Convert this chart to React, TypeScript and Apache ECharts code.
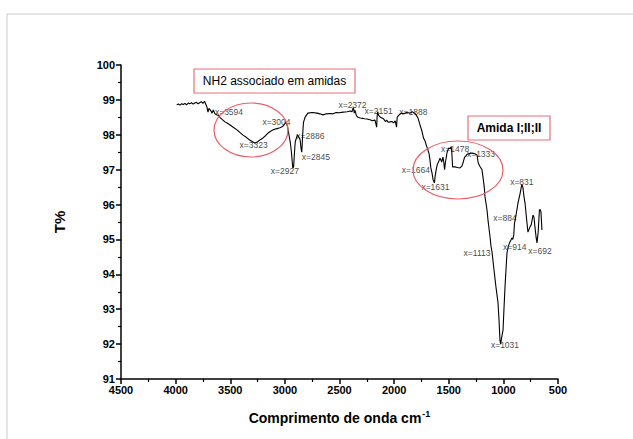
import React, { useEffect, useRef } from "react";
import * as echarts from "echarts";

const wavenumbers = [
  3990, 3975, 3960, 3945, 3930, 3915, 3900, 3885, 3870, 3855, 3840, 3825, 3810, 3795, 3780, 3765, 3750, 3735, 3725, 3712,
  3704, 3695, 3680, 3667, 3655, 3640, 3621, 3605, 3594, 3575, 3548, 3525, 3502, 3470, 3438, 3410, 3383, 3350, 3323, 3295,
  3274, 3250, 3225, 3200, 3175, 3154, 3130, 3109, 3080, 3045, 3020, 3004, 2990, 2975, 2960, 2950, 2940, 2932, 2927, 2920,
  2912, 2905, 2895, 2886, 2875, 2860, 2852, 2845, 2838, 2830, 2816, 2790, 2750, 2706, 2680, 2651, 2620, 2590, 2560, 2530,
  2500, 2468, 2430, 2400, 2386, 2378, 2372, 2365, 2358, 2345, 2331, 2310, 2290, 2270, 2248, 2220, 2200, 2175, 2160, 2155,
  2151, 2140, 2125, 2111, 2095, 2080, 2068, 2055, 2038, 2020, 2005, 1990, 1978, 1972, 1960, 1945, 1928, 1910, 1888, 1870,
  1855, 1835, 1810, 1795, 1781, 1760, 1745, 1730, 1717, 1700, 1690, 1680, 1672, 1664, 1653, 1644, 1631, 1625, 1615, 1605,
  1598, 1590, 1580, 1572, 1565, 1553, 1545, 1538, 1530, 1515, 1500, 1486, 1478, 1472, 1465, 1443, 1420, 1397, 1380, 1370,
  1355, 1340, 1333, 1310, 1287, 1265, 1241, 1230, 1215, 1196, 1185, 1175, 1168, 1150, 1141, 1122, 1113, 1104, 1086, 1068,
  1049, 1040, 1031, 1025, 1018, 1003, 995, 985, 976, 967, 955, 940, 921, 914, 905, 898, 884, 866, 848, 839,
  831, 822, 810, 802, 784, 775, 756, 745, 729, 720, 710, 700, 692, 682, 670, 662, 656, 647,
];

const transmittance = [
  98.86, 98.88, 98.85, 98.89, 98.87, 98.9, 98.86, 98.91, 98.89, 98.92, 98.88, 98.91, 98.93, 98.89, 98.92, 98.95, 98.9, 98.96, 98.88, 98.78,
  98.65, 98.76, 98.7, 98.62, 98.71, 98.6, 98.57, 98.55, 98.5, 98.44, 98.37, 98.33, 98.28, 98.21, 98.14, 98.06, 97.99, 97.92, 97.85, 97.8,
  97.76, 97.8, 97.86, 97.91, 97.98, 98.05, 98.1, 98.14, 98.17, 98.2, 98.24, 98.3, 98.37, 98.22, 97.95, 97.77, 97.5, 97.2, 97.05, 97.08,
  97.5, 97.8, 97.9, 98.0, 97.95, 97.85, 97.6, 97.5, 97.95, 98.35, 98.5, 98.62, 98.64, 98.62, 98.6, 98.57, 98.6, 98.61, 98.6, 98.64,
  98.63, 98.65, 98.66, 98.68, 98.66, 98.74, 98.78, 98.62, 98.7, 98.55, 98.5, 98.48, 98.47, 98.46, 98.45, 98.43, 98.4, 98.42, 98.22, 98.55,
  98.66, 98.55, 98.5, 98.48, 98.45, 98.38, 98.42, 98.36, 98.37, 98.38, 98.34, 98.4, 98.22, 98.5, 98.55, 98.6, 98.62, 98.6, 98.64, 98.63,
  98.62, 98.66, 98.62, 98.55, 98.48, 98.25, 98.1, 97.9, 97.82, 97.65, 97.56, 97.45, 97.28, 97.05, 96.9, 96.72, 96.62, 96.8, 97.0, 97.15,
  97.19, 97.25, 97.33, 97.28, 97.22, 97.36, 97.2, 97.0, 97.22, 97.5, 97.62, 97.6, 97.66, 97.5, 97.08, 97.08, 97.06, 97.05, 97.1, 97.19,
  97.36, 97.4, 97.44, 97.46, 97.48, 97.46, 97.42, 97.19, 97.1, 97.0, 96.75, 96.5, 96.22, 95.85, 95.56, 95.07, 94.8, 94.64, 94.13, 93.64,
  93.18, 92.7, 92.1, 92.0, 92.15, 92.41, 92.98, 93.64, 94.13, 94.61, 94.8, 94.93, 95.04, 95.0, 95.13, 95.47, 95.7, 96.05, 96.3, 96.45,
  96.58, 96.5, 96.2, 96.05, 95.47, 95.21, 95.36, 95.42, 95.7, 95.64, 95.33, 95.05, 94.9, 95.19, 95.85, 95.85, 95.79, 95.27,
];

const peakLabels = [3594, 3323, 3004, 2927, 2886, 2845, 2372, 2151, 1888, 1664, 1631, 1478, 1333, 1113, 1031, 914, 884, 831, 692];

const xTickMin = 500;
const xTickMax = 4500;
const yTickMin = 91;
const yTickMax = 100;

const annotationTexts = ["NH2 associado em amidas", "Amida I;II;II"];
const xAxisTitle = "Comprimento de onda cm";
const xAxisTitleSup = "-1";
const yAxisTitle = "T%";

// label placement (style only): offset of the label text from its point, in pixels
const LABEL_OFFSETS: Record<number, [number, number]> = {
  3594: [9, -5],
  3323: [4, 5],
  3004: [-8, -2],
  2927: [-8, 3],
  2886: [13, 1],
  2845: [14, 5],
  2372: [-1, -3],
  2151: [1, -1],
  1888: [7, 0],
  1664: [-15, 2],
  1631: [1, 4],
  1478: [4, 2],
  1333: [14, 0],
  1113: [-14, 7],
  1031: [5, 4],
  914: [2, 8],
  884: [-11, 3],
  831: [0, -2],
  692: [3, 8],
};

function nearestY(x: number): number {
  let best = 0;
  let bd = Infinity;
  for (let i = 0; i < wavenumbers.length; i++) {
    const d = Math.abs(wavenumbers[i] - x);
    if (d < bd) {
      bd = d;
      best = i;
    }
  }
  return transmittance[best];
}

export default function App() {
  const ref = useRef<HTMLDivElement>(null);

  useEffect(() => {
    if (!ref.current) return;
    const chart = echarts.init(ref.current, null, { renderer: "svg" });
    const lineData = wavenumbers.map((w, i) => [w, transmittance[i]]);
    const labelData = peakLabels.map((w) => ({
      value: [w, nearestY(w)],
      label: { offset: LABEL_OFFSETS[w] || [0, 0] },
    }));
    const axisFont = "'Liberation Sans', Arial, sans-serif";

    chart.setOption({
      animation: false,
      backgroundColor: "#ffffff",
      grid: { left: 121, right: 75, top: 65, bottom: 60, containLabel: false },
      xAxis: {
        type: "value",
        min: xTickMin,
        max: xTickMax,
        interval: 500,
        inverse: true,
        name: `${xAxisTitle}{sup|${xAxisTitleSup}}`,
        nameLocation: "middle",
        nameGap: 30,
        nameTextStyle: {
          fontFamily: axisFont,
          fontWeight: "bold",
          fontSize: 14,
          color: "#000",
          rich: {
            sup: {
              fontFamily: axisFont,
              fontWeight: "bold",
              fontSize: 9,
              color: "#000",
              verticalAlign: "top",
              padding: [0, 0, 8, 1],
            },
          },
        },
        axisLine: { show: true, lineStyle: { color: "#000", width: 1.5 } },
        axisTick: { show: true, inside: false, length: 5, lineStyle: { color: "#000", width: 1.5 } },
        minorTick: { show: true, splitNumber: 2, length: 3, lineStyle: { color: "#000", width: 1.2 } },
        splitLine: { show: false },
        axisLabel: {
          fontFamily: axisFont,
          fontWeight: "bold",
          fontSize: 11,
          color: "#000",
          margin: 5,
          formatter: (v: number) => String(v),
        },
      },
      yAxis: {
        type: "value",
        min: yTickMin,
        max: yTickMax,
        interval: 1,
        name: yAxisTitle,
        nameLocation: "middle",
        nameGap: 54,
        nameTextStyle: {
          fontFamily: axisFont,
          fontWeight: "bold",
          fontSize: 15,
          color: "#000",
        },
        axisLine: { show: true, lineStyle: { color: "#000", width: 1.5 } },
        axisTick: { show: true, inside: false, length: 5, lineStyle: { color: "#000", width: 1.5 } },
        minorTick: { show: true, splitNumber: 2, length: 3, lineStyle: { color: "#000", width: 1.2 } },
        splitLine: { show: false },
        axisLabel: {
          fontFamily: axisFont,
          fontWeight: "bold",
          fontSize: 11,
          color: "#000",
          margin: 6,
          formatter: (v: number) => String(v),
        },
      },
      series: [
        {
          type: "line",
          data: lineData,
          showSymbol: false,
          symbol: "none",
          lineStyle: { color: "#000", width: 1.1 },
          z: 3,
        },
        {
          type: "scatter",
          data: labelData,
          symbolSize: 0,
          itemStyle: { color: "#000" },
          label: {
            show: true,
            position: "inside",
            formatter: (p: any) => `x=${p.value[0]}`,
            fontFamily: axisFont,
            fontSize: 8.5,
            color: "#111",
            textBorderWidth: 0,
          },
          z: 4,
        },
      ],
      graphic: [
        { type: "line", shape: { x1: 7, y1: 14, x2: 7, y2: 439 }, style: { stroke: "#c9c9c9", lineWidth: 1 } },
        { type: "line", shape: { x1: 7, y1: 14, x2: 633, y2: 14 }, style: { stroke: "#c9c9c9", lineWidth: 1 } },
        {
          type: "rect",
          shape: { x: 194, y: 69, width: 161, height: 24 },
          style: { fill: "#fff", stroke: "#e8707a", lineWidth: 1.2 },
          z: 10,
        },
        {
          type: "text",
          x: 274.5,
          y: 81,
          style: {
            text: annotationTexts[0],
            fill: "#000",
            font: `12px ${axisFont}`,
            textAlign: "center",
            textVerticalAlign: "middle",
          },
          z: 11,
        },
        {
          type: "rect",
          shape: { x: 468, y: 116, width: 82, height: 24 },
          style: { fill: "#fff", stroke: "#e8707a", lineWidth: 1.2 },
          z: 10,
        },
        {
          type: "text",
          x: 509,
          y: 128,
          style: {
            text: annotationTexts[1],
            fill: "#000",
            font: `bold 12px ${axisFont}`,
            textAlign: "center",
            textVerticalAlign: "middle",
          },
          z: 11,
        },
        {
          type: "ellipse",
          shape: { cx: 251, cy: 130, rx: 37, ry: 27 },
          style: { fill: "none", stroke: "#e8606a", lineWidth: 1.2 },
          z: 10,
        },
        {
          type: "ellipse",
          shape: { cx: 458, cy: 170, rx: 45, ry: 29 },
          style: { fill: "none", stroke: "#e8606a", lineWidth: 1.2 },
          z: 10,
        },
      ],
    });
    return () => chart.dispose();
  }, []);

  return (
    <div
      ref={ref}
      style={{ position: "fixed", left: 0, top: 0, width: 633, height: 439, background: "#fff" }}
    />
  );
}
